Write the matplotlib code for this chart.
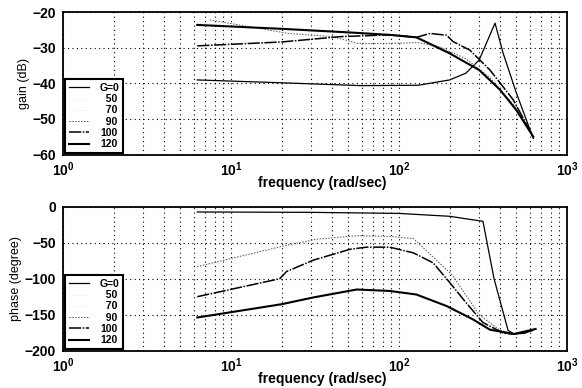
import matplotlib
matplotlib.use("Agg")
import matplotlib.pyplot as plt
from matplotlib.ticker import LogLocator, MultipleLocator, NullFormatter

plt.rcParams["font.family"] = ["Liberation Sans", "DejaVu Sans"]
plt.rcParams["font.weight"] = "bold"
plt.rcParams["mathtext.fontset"] = "custom"
plt.rcParams["mathtext.rm"] = "Liberation Sans:bold"
plt.rcParams["mathtext.default"] = "rm"

# figure spaces keep the numbers flush right like the original legend
labels = ["G=0", "\u200750", "\u200770", "\u200790", "100", "120"]

# gain (dB) per curve
gain_f_0 = [6.3, 20, 60, 130, 200, 250, 300, 373, 417, 500, 630]
gain_0 = [-39.0, -39.8, -40.6, -40.5, -39.0, -37.1, -33.4, -23.0, -31.5, -42.7, -55.5]
gain_f_50 = [6.3, 20, 60, 130, 200, 300, 450, 630]
gain_50 = [-23.0, -24.8, -26.0, -27.0, -30.5, -35.5, -43.0, -55.0]
gain_f_70 = [6.3, 20, 57, 130, 200, 300, 450, 630]
gain_70 = [-28.5, -28.6, -28.7, -28.5, -30.0, -35.0, -43.0, -55.0]
gain_f_90 = [7.5, 22, 40, 57, 90, 130, 170, 250, 350, 480, 630]
gain_90 = [-22.1, -25.9, -26.8, -28.7, -28.7, -28.5, -29.5, -33.0, -38.5, -46.0, -55.0]
gain_f_100 = [6.3, 20, 45, 88, 127, 153, 192, 210, 264, 348, 479, 630]
gain_100 = [-29.4, -28.3, -26.8, -26.3, -27.0, -25.9, -26.4, -28.2, -30.6, -36.2, -44.6, -55.0]
gain_f_120 = [6.3, 20, 50, 88, 127, 200, 300, 400, 500, 630]
gain_120 = [-23.5, -24.6, -25.6, -26.3, -27.0, -31.5, -36.2, -41.8, -47.5, -55.0]

# phase (degree) per curve
phase_f_0 = [6.3, 30, 100, 200, 316, 368, 446, 484, 560, 650]
phase_0 = [-7, -7.5, -9, -13, -20, -100, -172, -177, -176, -170]
phase_f_50 = [6.3, 20, 32, 56, 88, 122, 160, 206, 300, 400, 484]
phase_50 = [-84, -57, -47, -42, -42, -45, -70, -96, -150, -172, -177]
phase_f_70 = [6.3, 20, 31, 51, 88, 122, 160, 200, 250, 316, 420, 484]
phase_70 = [-126, -99, -76, -60, -57, -64, -79, -106, -134, -161, -176, -177]
phase_f_90 = [6.3, 20, 32, 56, 88, 122, 160, 206, 230, 300, 400, 484]
phase_90 = [-83, -55, -45, -40, -41, -44, -70, -94, -110, -150, -172, -177]
phase_f_100 = [6.3, 19.5, 21.4, 31, 51, 64, 88, 122, 160, 200, 250, 316, 420, 484, 628]
phase_100 = [-125, -100, -90, -74, -59, -56, -56, -64, -78, -105, -133, -161, -176, -177, -172]
phase_f_120 = [6.3, 20, 31, 56, 88, 127, 192, 275, 348, 484, 650]
phase_120 = [-154, -135.5, -126, -115, -117, -122, -138, -156.5, -171, -177, -170]

gain_f = [gain_f_0, gain_f_50, gain_f_70, gain_f_90, gain_f_100, gain_f_120]
gains = [gain_0, gain_50, gain_70, gain_90, gain_100, gain_120]
phase_f = [phase_f_0, phase_f_50, phase_f_70, phase_f_90, phase_f_100, phase_f_120]
phases = [phase_0, phase_50, phase_70, phase_90, phase_100, phase_120]

styles = [
    dict(color="black", lw=0.9, ls="-"),
    dict(color="#d0d0d0", lw=0.5, ls=(0, (1, 3))),
    dict(color="#d0d0d0", lw=0.5, ls=(0, (1, 3))),
    dict(color="#555555", lw=0.7, ls=(0, (1.5, 1.5))),
    dict(color="black", lw=1.1, ls=(0, (8, 1, 1, 1))),
    dict(color="black", lw=1.5, ls="-"),
]

fig = plt.figure(figsize=(5.82, 3.88), dpi=100)
ax1 = fig.add_axes([0.1082, 0.6018, 0.866, 0.366])
ax2 = fig.add_axes([0.1082, 0.0966, 0.866, 0.370])


def style_axes(ax, ylo, yhi, ystep, ylabel):
    ax.set_xscale("log")
    ax.set_xlim(1, 1000)
    ax.set_ylim(ylo, yhi)
    ax.yaxis.set_major_locator(MultipleLocator(ystep))
    ax.xaxis.set_major_locator(LogLocator(base=10, numticks=10))
    ax.xaxis.set_minor_locator(LogLocator(base=10, subs=range(2, 10), numticks=20))
    ax.xaxis.set_minor_formatter(NullFormatter())
    ax.grid(True, which="major", ls=(0, (1, 3)), color="black", lw=0.8)
    ax.grid(True, which="minor", axis="x", ls=(0, (1, 3)), color="black", lw=0.8)
    ax.tick_params(which="both", direction="in", length=0, labelsize=10, pad=5)
    ax.tick_params(axis="x", pad=4)
    for s in ax.spines.values():
        s.set_linewidth(1.3)
    ax.set_ylabel(ylabel, fontsize=9, fontweight="normal", labelpad=2)
    ax.set_xlabel("frequency (rad/sec)", fontsize=10, fontweight="bold")
    ax.xaxis.set_label_coords(0.515, -0.15)


style_axes(ax1, -60, -20, 10, "gain (dB)")
style_axes(ax2, -200, 0, 50, "phase (degree)")

for f, g, st, lab in zip(gain_f, gains, styles, labels):
    ax1.plot(f, g, label=lab, **st)
for f, p, st, lab in zip(phase_f, phases, styles, labels):
    ax2.plot(f, p, label=lab, **st)

for ax in (ax1, ax2):
    leg = ax.legend(loc="lower left", bbox_to_anchor=(0.004, 0.012), borderaxespad=0,
                    fontsize=7.5, handlelength=2.0, labelspacing=0.12,
                    handletextpad=1.0, borderpad=0.35, fancybox=False,
                    framealpha=1, edgecolor="black")
    leg.get_frame().set_linewidth(1.5)
    for t in leg.get_texts():
        t.set_fontweight("bold")

fig.savefig("out.png", dpi=100)
